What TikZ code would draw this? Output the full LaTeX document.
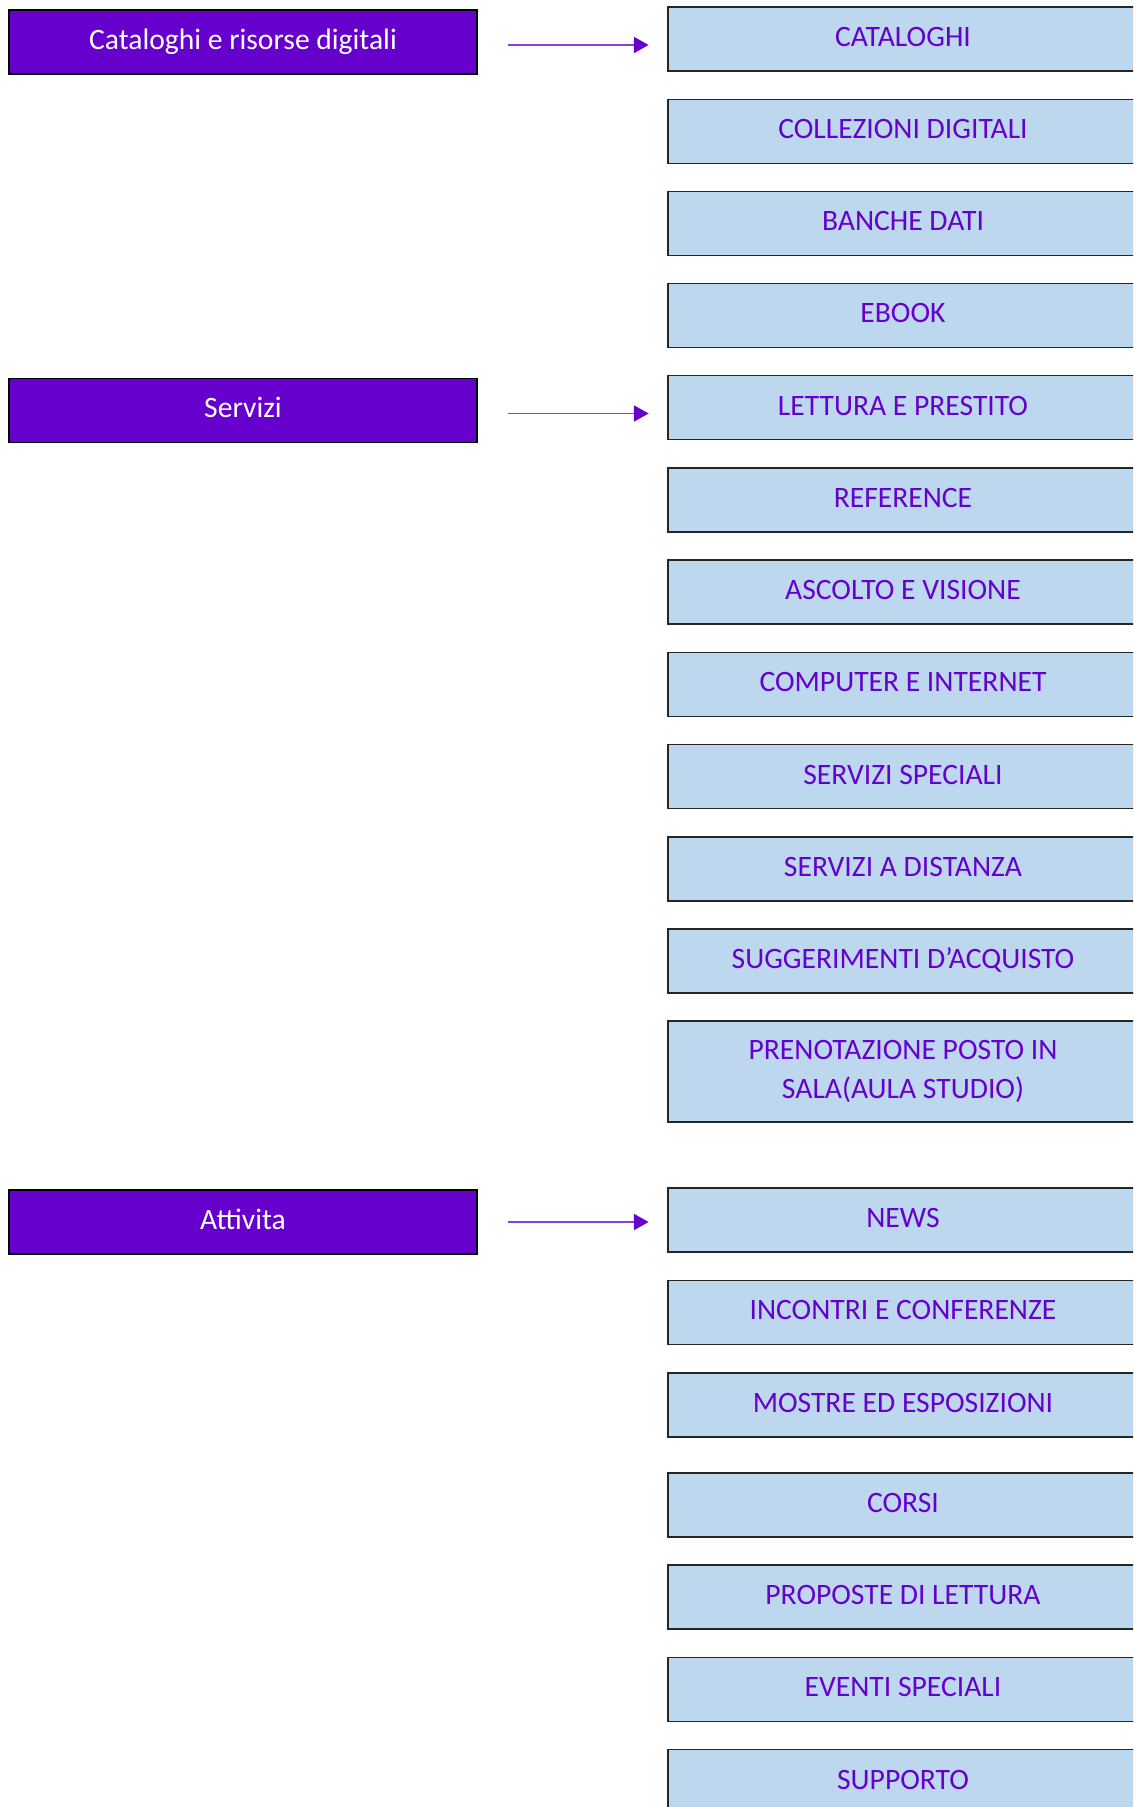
\documentclass[tikz,border=0pt]{standalone}
\usepackage{fontspec}
\setmainfont{Carlito}
\usetikzlibrary{arrows.meta}
\definecolor{violet}{HTML}{6600CC}
\definecolor{lineviolet}{HTML}{8A3FD8}
\definecolor{paleblue}{HTML}{BDD7EE}
\begin{document}
\begin{tikzpicture}[x=0.75pt,y=-0.75pt,
  leftbox/.style={draw=black,line width=1.1pt,fill=violet,text=white,
    minimum width=351pt,minimum height=48pt,inner sep=0pt,
    text height=14pt,text depth=3.4pt,
    font=\fontsize{22.2}{26}\selectfont},
  rightbox/.style={draw=black!85,line width=1.1pt,fill=paleblue,text=violet,
    minimum width=352.5pt,minimum height=48pt,inner sep=0pt,align=center,
    text height=14pt,text depth=2.8pt,
    font=\fontsize{22.2}{29}\selectfont},
  conn/.style={draw=lineviolet,line width=1.2pt,
    -{Triangle[length=11pt,width=12pt,color=violet]},
    shorten <=22.5pt,shorten >=14pt}]
\useasboundingbox (0,0) rectangle (1133,1807);
\clip (0,0) rectangle (1133,1807);
% section headings
\node[leftbox] (cat) at (243,42) {Cataloghi e risorse digitali};
\node[leftbox] (ser) at (243,410.5) {Servizi};
\node[leftbox] (att) at (243,1222) {Attivita};
% items of each section
\node[rightbox] (r1) at (903,39.2) {CATALOGHI};
\node[rightbox] (r2) at (903,131.3) {COLLEZIONI DIGITALI};
\node[rightbox] (r3) at (903,223.3) {BANCHE DATI};
\node[rightbox] (r4) at (903,315.5) {EBOOK};
\node[rightbox] (s1) at (903,407.7) {LETTURA E PRESTITO};
\node[rightbox] (s2) at (903,500) {REFERENCE};
\node[rightbox] (s3) at (903,592.2) {ASCOLTO E VISIONE};
\node[rightbox] (s4) at (903,684.4) {COMPUTER E INTERNET};
\node[rightbox] (s5) at (903,776.6) {SERVIZI SPECIALI};
\node[rightbox] (s6) at (903,868.8) {SERVIZI A DISTANZA};
\node[rightbox] (s7) at (903,961) {SUGGERIMENTI D’ACQUISTO};
\node[rightbox,minimum height=75.75pt,text height={},text depth={}] (s8) at (903,1071.3) {PRENOTAZIONE POSTO IN\\SALA(AULA STUDIO)};
\node[rightbox] (a1) at (903,1220) {NEWS};
\node[rightbox] (a2) at (903,1312.5) {INCONTRI E CONFERENZE};
\node[rightbox] (a3) at (903,1404.8) {MOSTRE ED ESPOSIZIONI};
\node[rightbox] (a4) at (903,1505) {CORSI};
\node[rightbox] (a5) at (903,1597.2) {PROPOSTE DI LETTURA};
\node[rightbox] (a6) at (903,1689.5) {EVENTI SPECIALI};
\node[rightbox] (a7) at (903,1781.7) {SUPPORTO};
% connectors
\draw[conn] ([yshift=-2.25pt]cat.east) -- ([yshift=-2.25pt]cat.east -| r1.west);
\draw[conn] ([yshift=-2.25pt]ser.east) -- ([yshift=-2.25pt]ser.east -| s1.west);
\draw[conn] (att.east) -- (att.east -| a1.west);
\end{tikzpicture}
\end{document}
